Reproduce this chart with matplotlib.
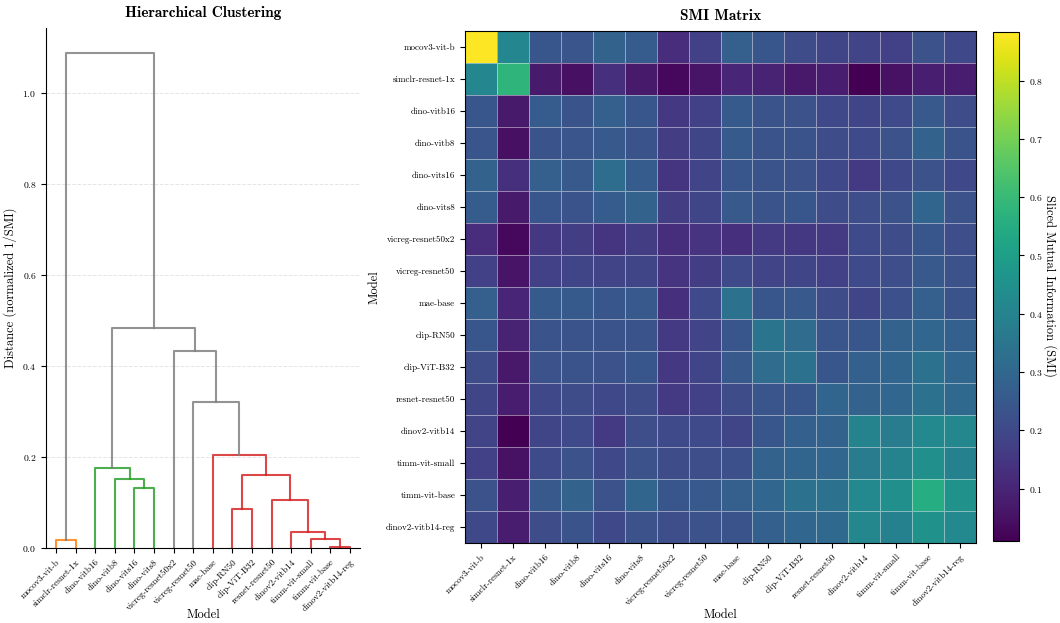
import numpy as np
import matplotlib.pyplot as plt

plt.rcParams['font.family'] = 'cmr10'
plt.rcParams['mathtext.fontset'] = 'cm'
plt.rcParams['axes.formatter.use_mathtext'] = True

models = ["mocov3-vit-b", "simclr-resnet-1x", "dino-vitb16", "dino-vitb8",
          "dino-vits16", "dino-vits8", "vicreg-resnet50x2", "vicreg-resnet50",
          "mae-base", "clip-RN50", "clip-ViT-B32", "resnet-resnet50",
          "dinov2-vitb14", "timm-vit-small", "timm-vit-base", "dinov2-vitb14-reg"]

# SMI values, upper triangle (row i holds columns i..15), matrix is symmetric
smi_upper = [
    [0.884, 0.41, 0.245, 0.24, 0.28, 0.26, 0.12, 0.175, 0.27, 0.245, 0.21, 0.19, 0.185, 0.175, 0.23, 0.20],
    [0.58, 0.07, 0.045, 0.13, 0.07, 0.03, 0.055, 0.10, 0.095, 0.065, 0.08, 0.01, 0.05, 0.085, 0.075],
    [0.26, 0.235, 0.27, 0.245, 0.15, 0.175, 0.255, 0.235, 0.23, 0.20, 0.19, 0.205, 0.25, 0.21],
    [0.24, 0.25, 0.235, 0.165, 0.19, 0.255, 0.235, 0.235, 0.21, 0.205, 0.23, 0.28, 0.235],
    [0.32, 0.26, 0.145, 0.185, 0.245, 0.235, 0.23, 0.20, 0.16, 0.20, 0.23, 0.20],
    [0.28, 0.165, 0.19, 0.25, 0.235, 0.245, 0.21, 0.215, 0.23, 0.29, 0.23],
    [0.125, 0.14, 0.13, 0.155, 0.15, 0.155, 0.205, 0.21, 0.245, 0.215],
    [0.165, 0.205, 0.185, 0.19, 0.175, 0.205, 0.215, 0.25, 0.23],
    [0.34, 0.245, 0.25, 0.21, 0.19, 0.225, 0.27, 0.235],
    [0.345, 0.315, 0.24, 0.245, 0.285, 0.30, 0.275],
    [0.34, 0.245, 0.275, 0.29, 0.335, 0.30],
    [0.29, 0.285, 0.295, 0.34, 0.305],
    [0.40, 0.37, 0.42, 0.415],
    [0.40, 0.445, 0.39],
    [0.55, 0.45],
    [0.42],
]

# linkage: child a, child b, merge distance (new node id = 16 + row)
link_a = [0, 4, 3, 2, 14, 13, 12, 9, 11, 23, 8, 7, 6, 19, 16]
link_b = [1, 5, 17, 18, 15, 20, 21, 10, 22, 24, 25, 26, 27, 28, 29]
link_d = [0.019, 0.133, 0.153, 0.176, 0.003, 0.020, 0.036, 0.087, 0.105,
          0.160, 0.205, 0.320, 0.433, 0.483, 1.087]
color_threshold = 0.25

n = len(models)
smi = np.zeros((n, n))
for i, row in enumerate(smi_upper):
    smi[i, i:] = row
    smi[i:, i] = row

fig = plt.figure(figsize=(10.6, 6.23), dpi=100)
ax_d = fig.add_axes([0.0436, 0.1199, 0.2958, 0.835])
ax_h = fig.add_axes([0.4387, 0.1284, 0.4821, 0.8223])
cax = fig.add_axes([0.9368, 0.1316, 0.0245, 0.8175])

# --- dendrogram ---
xpos = {i: 5 + 10 * i for i in range(n)}
height = {i: 0.0 for i in range(n)}
children = {}
parent = {}
for k, (a, b, d) in enumerate(zip(link_a, link_b, link_d)):
    node = n + k
    xpos[node] = (xpos[a] + xpos[b]) / 2
    height[node] = d
    children[node] = (a, b)
    parent[a] = node
    parent[b] = node

roots = [nd for nd in children
         if height[nd] < color_threshold and height[parent[nd]] >= color_threshold]
roots.sort(key=lambda nd: xpos[nd])
color = {}

def paint(nd, c):
    color[nd] = c
    for ch in children.get(nd, ()):
        paint(ch, c)

for c, r in zip(['C1', 'C2', 'C3'], roots):
    paint(r, c)

for nd, (a, b) in children.items():
    ax_d.plot([xpos[a], xpos[a], xpos[b], xpos[b]],
              [height[a], height[nd], height[nd], height[b]],
              color=color.get(nd, 'grey'), lw=1.5, alpha=0.85)

ax_d.set_xlim(0, 10 * n)
ax_d.set_ylim(0, max(link_d) * 1.05)
ax_d.set_xticks([xpos[i] for i in range(n)])
ax_d.set_xticklabels(models, rotation=45, ha='right', rotation_mode='anchor', fontsize=6.5)
ax_d.set_yticks(np.arange(0, 1.01, 0.2))
ax_d.tick_params(axis='y', labelsize=7)
ax_d.yaxis.grid(True, linestyle='--', color='lightgrey', alpha=0.6, lw=0.7)
ax_d.set_axisbelow(True)
for s in ['top', 'right']:
    ax_d.spines[s].set_visible(False)
ax_d.set_xlabel('Model', fontsize=9)
ax_d.xaxis.set_label_coords(0.5, -0.117)
ax_d.set_ylabel('Distance (normalized 1/SMI)', fontsize=9)
ax_d.set_title('Hierarchical Clustering', fontsize=11, fontfamily='cmb10', pad=8)

# --- SMI heatmap ---
mesh = ax_h.pcolormesh(smi, cmap='viridis', edgecolors=(1, 1, 1, 0.45), linewidth=0.6)
ax_h.set_xlim(0, n)
ax_h.set_ylim(n, 0)
ax_h.set_xticks(np.arange(n) + 0.5)
ax_h.set_yticks(np.arange(n) + 0.5)
ax_h.set_xticklabels(models, rotation=45, ha='right', rotation_mode='anchor', fontsize=6.5)
ax_h.set_yticklabels(models, fontsize=6.5)
ax_h.set_xlabel('Model', fontsize=9)
ax_h.xaxis.set_label_coords(0.5, -0.129)
ax_h.set_ylabel('Model', fontsize=9)
ax_h.set_title('SMI Matrix', fontsize=11, fontfamily='cmb10', pad=8)

cb = fig.colorbar(mesh, cax=cax)
cb.ax.tick_params(labelsize=7)
cb.set_label('Sliced Mutual Information (SMI)', rotation=270, labelpad=10, fontsize=9)

fig.savefig('out.png', dpi=100)
